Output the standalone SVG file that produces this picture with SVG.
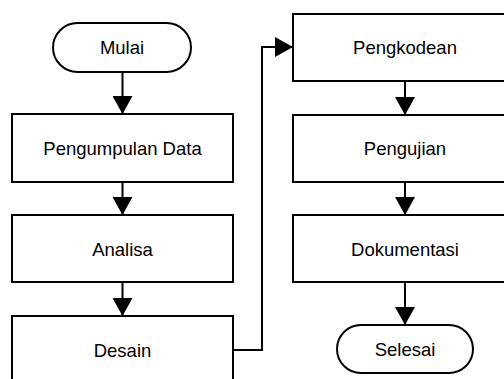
<svg xmlns="http://www.w3.org/2000/svg" width="504" height="379" viewBox="0 0 504 379">
<style>
.box{fill:#fff;stroke:#000;stroke-width:2}
.lbl{font-family:"Liberation Sans",Arial,sans-serif;font-size:18.5px;fill:#000;text-anchor:middle}
.con{fill:none;stroke:#000;stroke-width:2}
</style>
<defs>
<marker id="ah" markerUnits="userSpaceOnUse" markerWidth="20" markerHeight="20" viewBox="0 0 18 20" refX="18" refY="10" orient="auto">
<path d="M0,0 L18,10 L0,20 Z" fill="#000"/>
</marker>
</defs>
<rect width="504" height="379" fill="#fff"/>
<g id="connectors">
<path class="con" d="M122.5,72 V114" marker-end="url(#ah)"/>
<path class="con" d="M122.5,182 V215" marker-end="url(#ah)"/>
<path class="con" d="M122.5,282 V316" marker-end="url(#ah)"/>
<path class="con" d="M233,350 H262 V47 H293" marker-end="url(#ah)"/>
<path class="con" d="M405,81 V115" marker-end="url(#ah)"/>
<path class="con" d="M405,182 V215" marker-end="url(#ah)"/>
<path class="con" d="M405,282 V325" marker-end="url(#ah)"/>
</g>
<g id="mulai"><rect class="box" x="53" y="23" width="138" height="49" rx="24.5"/><text class="lbl" x="122" y="54">Mulai</text></g>
<g id="pengumpulan"><rect class="box" x="12" y="114" width="221" height="68"/><text class="lbl" x="122.5" y="155">Pengumpulan Data</text></g>
<g id="analisa"><rect class="box" x="12" y="215" width="221" height="67"/><text class="lbl" x="122.5" y="256">Analisa</text></g>
<g id="desain"><rect class="box" x="12" y="316" width="221" height="68"/><text class="lbl" x="122.5" y="357">Desain</text></g>
<g id="pengkodean"><rect class="box" x="293" y="14" width="224" height="67"/><text class="lbl" x="405" y="54">Pengkodean</text></g>
<g id="pengujian"><rect class="box" x="293" y="115" width="224" height="67"/><text class="lbl" x="405" y="155">Pengujian</text></g>
<g id="dokumentasi"><rect class="box" x="293" y="215" width="224" height="67"/><text class="lbl" x="405" y="256">Dokumentasi</text></g>
<g id="selesai"><rect class="box" x="337" y="325" width="136" height="48" rx="24"/><text class="lbl" x="405" y="356">Selesai</text></g>
</svg>
